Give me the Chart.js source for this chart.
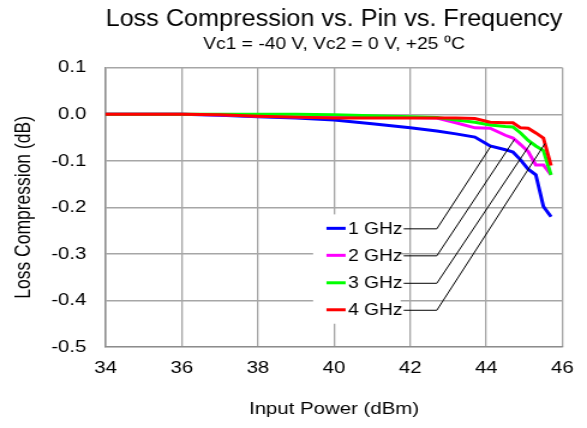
<!DOCTYPE html>
<html>
<head>
<meta charset="utf-8">
<script src="https://cdn.jsdelivr.net/npm/chart.js@4/dist/chart.umd.min.js"></script>
<style>
  html, body { margin: 0; padding: 0; background: #fff; overflow: hidden; }
  /* the original figure is a horizontally stretched image, so draw narrow and stretch */
  #wrap { width: 489px; height: 428px; transform: scaleX(1.2004); transform-origin: 0 0; }
</style>
</head>
<body>
<div id="wrap"><canvas id="chart"></canvas></div>
<script>
// input power (dBm)
const pinDbm = [34, 35, 36, 37, 38, 39, 40, 41, 42, 42.7, 43.2, 43.7, 44.1, 44.5, 44.7, 44.9, 45.1, 45.3, 45.5, 45.7];

// loss compression (dB) per frequency
const loss1GHz = [0, 0, 0, -0.002, -0.005, -0.008, -0.012, -0.02, -0.029, -0.036, -0.042, -0.049, -0.068, -0.076, -0.081, -0.098, -0.118, -0.13, -0.198, -0.22];
const loss2GHz = [0, 0, 0, -0.001, -0.004, -0.006, -0.007, -0.007, -0.007, -0.008, -0.018, -0.029, -0.03, -0.045, -0.051, -0.065, -0.08, -0.109, -0.109, -0.13];
const loss3GHz = [0, 0, 0, 0, 0, 0, -0.001, -0.003, -0.005, -0.007, -0.012, -0.017, -0.023, -0.026, -0.027, -0.04, -0.056, -0.068, -0.078, -0.13];
const loss4GHz = [0, 0, 0, -0.001, -0.004, -0.006, -0.008, -0.008, -0.008, -0.008, -0.008, -0.009, -0.017, -0.018, -0.018, -0.029, -0.03, -0.04, -0.051, -0.11];

const seriesNames = ["1 GHz", "2 GHz", "3 GHz", "4 GHz"];
const seriesColors = ["#0000ff", "#ff00ff", "#00ff00", "#ff0000"];
// where each leader line touches its curve (dBm)
const leaderAt = [44.12, 44.74, 45.18, 45.54];

const xTicks = [34, 36, 38, 40, 42, 44, 46];
const yTicks = [0.1, 0.0, -0.1, -0.2, -0.3, -0.4, -0.5];

const FONT = "'Liberation Sans', Arial, sans-serif";

function toPoints(ys) {
  return pinDbm.map((x, i) => ({ x: x, y: ys[i] }));
}

function interp(ys, x) {
  for (let i = 0; i < pinDbm.length - 1; i++) {
    if (x >= pinDbm[i] && x <= pinDbm[i + 1]) {
      const t = (x - pinDbm[i]) / (pinDbm[i + 1] - pinDbm[i]);
      return ys[i] + t * (ys[i + 1] - ys[i]);
    }
  }
  return ys[ys.length - 1];
}

const allLoss = [loss1GHz, loss2GHz, loss3GHz, loss4GHz];

// legend with leader lines, drawn inside the plot
const calloutLegend = {
  id: "calloutLegend",
  afterDatasetsDraw(chart) {
    const ctx = chart.ctx;
    const xs = chart.scales.x, ys = chart.scales.y;
    const boxL = xs.getPixelForValue(39.45), boxR = xs.getPixelForValue(41.75);
    const boxT = ys.getPixelForValue(-0.215), boxB = ys.getPixelForValue(-0.45);
    ctx.save();
    ctx.fillStyle = "#fff";
    ctx.fillRect(boxL, boxT, boxR - boxL, boxB - boxT);
    ctx.font = "16px " + FONT;
    ctx.textBaseline = "middle";
    ctx.textAlign = "left";
    const rowY = [-0.245, -0.303, -0.362, -0.42];
    const elbowX = xs.getPixelForValue(42.7);
    seriesNames.forEach((name, i) => {
      const y = ys.getPixelForValue(rowY[i]);
      const sx = xs.getPixelForValue(39.8);
      ctx.strokeStyle = seriesColors[i];
      ctx.lineWidth = 3;
      ctx.beginPath();
      ctx.moveTo(sx, y);
      ctx.lineTo(sx + 16, y);
      ctx.stroke();
      ctx.fillStyle = "#000";
      ctx.fillText(name, sx + 18, y + 1);
      const tw = ctx.measureText(name).width;
      const ex = xs.getPixelForValue(leaderAt[i]);
      const ey = ys.getPixelForValue(interp(allLoss[i], leaderAt[i]));
      ctx.strokeStyle = "#000";
      ctx.lineWidth = 1;
      ctx.beginPath();
      ctx.moveTo(sx + 18 + tw + 1, y + 0.5);
      ctx.lineTo(elbowX, y + 0.5);
      ctx.lineTo(ex, ey);
      ctx.stroke();
    });
    ctx.restore();
  }
};

new Chart(document.getElementById("chart"), {
  type: "line",
  data: {
    datasets: allLoss.map((ys, i) => ({
      label: seriesNames[i],
      data: toPoints(ys),
      borderColor: seriesColors[i],
      backgroundColor: seriesColors[i],
      borderWidth: 3,
      pointRadius: 0,
      tension: 0,
      fill: false
    })).reverse()
  },
  options: {
    responsive: true,
    maintainAspectRatio: false,
    animation: false,
    layout: { padding: { left: 0, right: 20, top: 0, bottom: 0 } },
    plugins: {
      legend: { display: false },
      tooltip: { enabled: false },
      title: {
        display: true,
        fullSize: false,
        text: "Loss Compression vs. Pin vs. Frequency",
        color: "#000",
        font: { family: FONT, size: 23, weight: "normal", lineHeight: 1.2 },
        padding: { top: 6, bottom: 0 }
      },
      subtitle: {
        display: true,
        fullSize: false,
        text: "Vc1 = -40 V, Vc2 = 0 V, +25 \u2070C",
        color: "#000",
        font: { family: FONT, size: 16, weight: "normal", lineHeight: 1.2 },
        padding: { top: 1, bottom: 14 }
      }
    },
    scales: {
      x: {
        type: "linear",
        min: 34,
        max: 46,
        afterBuildTicks: (s) => { s.ticks = xTicks.map(v => ({ value: v })); },
        afterFit: (s) => { s.height = 81; },
        grid: { color: "#a6a6a6", lineWidth: 1.3, drawTicks: false },
        border: { color: "#8c8c8c", width: 1.3 },
        ticks: { color: "#000", font: { family: FONT, size: 17 }, padding: 11 },
        title: {
          display: true,
          text: "Input Power (dBm)",
          color: "#000",
          font: { family: FONT, size: 17 },
          padding: { top: 0, bottom: 8 }
        }
      },
      y: {
        type: "linear",
        min: -0.5,
        max: 0.1,
        afterBuildTicks: (s) => { s.ticks = yTicks.map(v => ({ value: v })); },
        afterFit: (s) => { s.width = 88; },
        grid: { color: "#a6a6a6", lineWidth: 1.5, drawTicks: false },
        border: { color: "#8c8c8c", width: 1.5 },
        ticks: {
          color: "#000",
          font: { family: FONT, size: 17 },
          padding: 16,
          callback: (v) => v.toFixed(1)
        },
        title: {
          display: true,
          text: "Loss Compression (dB)",
          color: "#000",
          font: { family: FONT, size: 17.5 },
          padding: { top: 10, bottom: 0 }
        }
      }
    }
  },
  plugins: [calloutLegend]
});
</script>
</body>
</html>
